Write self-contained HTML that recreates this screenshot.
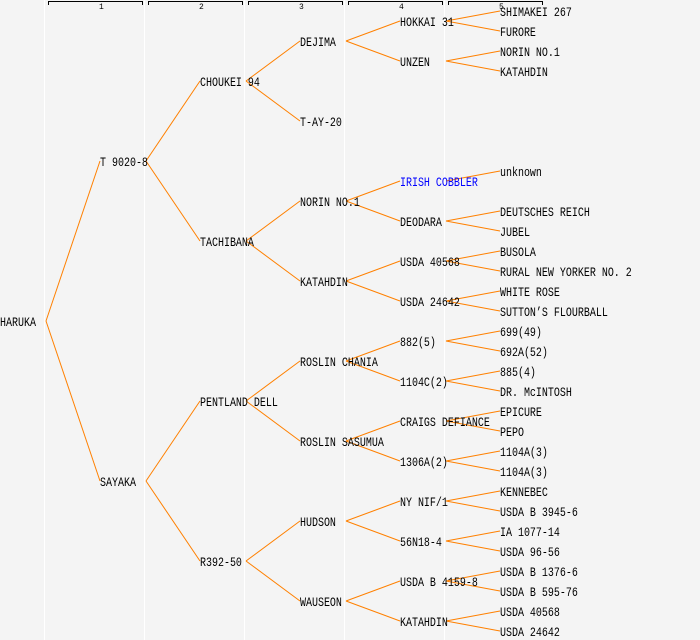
<!DOCTYPE html>
<html><head><meta charset="utf-8"><style>
html,body{margin:0;padding:0;background:#f4f4f4;}
svg{display:block;}
text{font-family:"Liberation Mono",monospace;font-size:13px;fill:#000;}
text.h{font-size:8px;}
</style></head><body>
<svg width="700" height="640" viewBox="0 0 700 640" xmlns="http://www.w3.org/2000/svg">
<rect width="700" height="640" fill="#f4f4f4"/>
<g stroke="#fff" stroke-width="1">
<line x1="44.5" y1="0" x2="44.5" y2="640"/><line x1="144.5" y1="0" x2="144.5" y2="640"/><line x1="244.5" y1="0" x2="244.5" y2="640"/><line x1="344.5" y1="0" x2="344.5" y2="640"/><line x1="444.5" y1="0" x2="444.5" y2="640"/>
</g>
<g stroke="#000" stroke-width="1" fill="none">
<path d="M48.5 5V1.5H142.5V5"/><path d="M148.5 5V1.5H242.5V5"/><path d="M248.5 5V1.5H342.5V5"/><path d="M348.5 5V1.5H442.5V5"/><path d="M448.5 5V1.5H542.5V5"/>
</g>
<g><text class="h" x="99" y="9">1</text><text class="h" x="199" y="9">2</text><text class="h" x="299" y="9">3</text><text class="h" x="399" y="9">4</text><text class="h" x="499" y="9">5</text></g>
<g stroke="#ff8000" stroke-width="1" fill="none">
<line x1="46" y1="321" x2="100" y2="161"/><line x1="46" y1="321" x2="100" y2="481"/>
<line x1="146" y1="161" x2="200" y2="81"/><line x1="146" y1="161" x2="200" y2="241"/>
<line x1="146" y1="481" x2="200" y2="401"/><line x1="146" y1="481" x2="200" y2="561"/>
<line x1="246" y1="81" x2="300" y2="41"/><line x1="246" y1="81" x2="300" y2="121"/>
<line x1="246" y1="241" x2="300" y2="201"/><line x1="246" y1="241" x2="300" y2="281"/>
<line x1="246" y1="401" x2="300" y2="361"/><line x1="246" y1="401" x2="300" y2="441"/>
<line x1="246" y1="561" x2="300" y2="521"/><line x1="246" y1="561" x2="300" y2="601"/>
<line x1="346" y1="41" x2="400" y2="21"/><line x1="346" y1="41" x2="400" y2="61"/>
<line x1="346" y1="201" x2="400" y2="181"/><line x1="346" y1="201" x2="400" y2="221"/>
<line x1="346" y1="281" x2="400" y2="261"/><line x1="346" y1="281" x2="400" y2="301"/>
<line x1="346" y1="361" x2="400" y2="341"/><line x1="346" y1="361" x2="400" y2="381"/>
<line x1="346" y1="441" x2="400" y2="421"/><line x1="346" y1="441" x2="400" y2="461"/>
<line x1="346" y1="521" x2="400" y2="501"/><line x1="346" y1="521" x2="400" y2="541"/>
<line x1="346" y1="601" x2="400" y2="581"/><line x1="346" y1="601" x2="400" y2="621"/>
<line x1="446" y1="21" x2="500" y2="11"/><line x1="446" y1="21" x2="500" y2="31"/>
<line x1="446" y1="61" x2="500" y2="51"/><line x1="446" y1="61" x2="500" y2="71"/>
<line x1="446" y1="181" x2="500" y2="171"/>
<line x1="446" y1="221" x2="500" y2="211"/><line x1="446" y1="221" x2="500" y2="231"/>
<line x1="446" y1="261" x2="500" y2="251"/><line x1="446" y1="261" x2="500" y2="271"/>
<line x1="446" y1="301" x2="500" y2="291"/><line x1="446" y1="301" x2="500" y2="311"/>
<line x1="446" y1="341" x2="500" y2="331"/><line x1="446" y1="341" x2="500" y2="351"/>
<line x1="446" y1="381" x2="500" y2="371"/><line x1="446" y1="381" x2="500" y2="391"/>
<line x1="446" y1="421" x2="500" y2="411"/><line x1="446" y1="421" x2="500" y2="431"/>
<line x1="446" y1="461" x2="500" y2="451"/><line x1="446" y1="461" x2="500" y2="471"/>
<line x1="446" y1="501" x2="500" y2="491"/><line x1="446" y1="501" x2="500" y2="511"/>
<line x1="446" y1="541" x2="500" y2="531"/><line x1="446" y1="541" x2="500" y2="551"/>
<line x1="446" y1="581" x2="500" y2="571"/><line x1="446" y1="581" x2="500" y2="591"/>
<line x1="446" y1="621" x2="500" y2="611"/><line x1="446" y1="621" x2="500" y2="631"/>
</g>
<g transform="scale(0.7692,1)">
<text x="0" y="326">HARUKA</text>
<text x="130" y="166">T 9020-8</text><text x="130" y="486">SAYAKA</text>
<text x="260" y="86">CHOUKEI 94</text><text x="260" y="246">TACHIBANA</text><text x="260" y="406">PENTLAND DELL</text><text x="260" y="566">R392-50</text>
<text x="390" y="46">DEJIMA</text><text x="390" y="126">T-AY-20</text><text x="390" y="206">NORIN NO.1</text><text x="390" y="286">KATAHDIN</text><text x="390" y="366">ROSLIN CHANIA</text><text x="390" y="446">ROSLIN SASUMUA</text><text x="390" y="526">HUDSON</text><text x="390" y="606">WAUSEON</text>
<text x="520" y="26">HOKKAI 31</text><text x="520" y="66">UNZEN</text><text x="520" y="186" style="fill:#0000ff">IRISH COBBLER</text><text x="520" y="226">DEODARA</text><text x="520" y="266">USDA 40568</text><text x="520" y="306">USDA 24642</text><text x="520" y="346">882(5)</text><text x="520" y="386">1104C(2)</text><text x="520" y="426">CRAIGS DEFIANCE</text><text x="520" y="466">1306A(2)</text><text x="520" y="506">NY NIF/1</text><text x="520" y="546">56N18-4</text><text x="520" y="586">USDA B 4159-8</text><text x="520" y="626">KATAHDIN</text>
<text x="650" y="16">SHIMAKEI 267</text><text x="650" y="36">FURORE</text><text x="650" y="56">NORIN NO.1</text><text x="650" y="76">KATAHDIN</text>
<text x="650" y="176">unknown</text><text x="650" y="216">DEUTSCHES REICH</text><text x="650" y="236">JUBEL</text><text x="650" y="256">BUSOLA</text><text x="650" y="276">RURAL NEW YORKER NO. 2</text><text x="650" y="296">WHITE ROSE</text><text x="650" y="316">SUTTON’S FLOURBALL</text><text x="650" y="336">699(49)</text><text x="650" y="356">692A(52)</text><text x="650" y="376">885(4)</text><text x="650" y="396">DR. McINTOSH</text><text x="650" y="416">EPICURE</text><text x="650" y="436">PEPO</text><text x="650" y="456">1104A(3)</text><text x="650" y="476">1104A(3)</text><text x="650" y="496">KENNEBEC</text><text x="650" y="516">USDA B 3945-6</text><text x="650" y="536">IA 1077-14</text><text x="650" y="556">USDA 96-56</text><text x="650" y="576">USDA B 1376-6</text><text x="650" y="596">USDA B 595-76</text><text x="650" y="616">USDA 40568</text><text x="650" y="636">USDA 24642</text>
</g>
</svg>
</body></html>
